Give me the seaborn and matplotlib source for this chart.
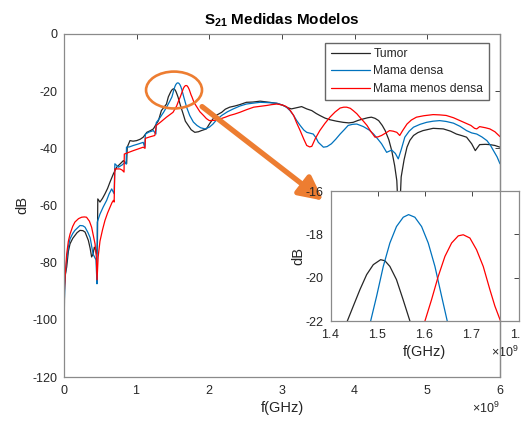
import numpy as np
import pandas as pd
import matplotlib
matplotlib.use("Agg")
import matplotlib.pyplot as plt
import seaborn as sns
from matplotlib.patches import Ellipse
from matplotlib.lines import Line2D
from matplotlib.ticker import ScalarFormatter

# ---------------- data (frequency in GHz, S21 in dB) ----------------
tumor_f = [0.0, 0.008, 0.02, 0.037, 0.06, 0.083, 0.12, 0.15, 0.18, 0.22, 0.26, 0.29, 0.335, 0.36, 0.38,
           0.40, 0.417, 0.435, 0.45, 0.46, 0.465, 0.495, 0.53, 0.564, 0.6, 0.633, 0.68, 0.725, 0.77, 0.817,
           0.862, 0.87, 0.908, 0.95, 1.0, 1.05, 1.09, 1.14, 1.19, 1.23, 1.27, 1.30, 1.34, 1.38, 1.41,
           1.4357, 1.4484, 1.4625, 1.4767, 1.4908, 1.5064, 1.5155, 1.526, 1.540, 1.554, 1.5685,
           1.60, 1.64, 1.67, 1.71, 1.75, 1.80,
           1.85, 1.89, 1.96, 2.0, 2.05, 2.10, 2.17, 2.22, 2.28, 2.35, 2.42, 2.51, 2.60, 2.70, 2.83, 2.93,
           3.02, 3.08, 3.13, 3.20, 3.27, 3.34, 3.41, 3.47, 3.52, 3.59, 3.66, 3.75, 3.84, 3.92, 3.98, 4.05,
           4.12, 4.18, 4.23, 4.28, 4.33, 4.38, 4.42, 4.47, 4.51, 4.55, 4.58, 4.61, 4.64, 4.68, 4.72, 4.76,
           4.81, 4.87, 4.94, 5.08, 5.22, 5.32, 5.40, 5.48, 5.54, 5.61, 5.66, 5.72, 5.80, 5.86, 5.93, 6.0]
tumor_db = [-110, -88, -84, -81.5, -76, -73.4, -71.5, -70.5, -69.5, -68.7, -68.8, -69.3, -72.2, -75, -78,
            -77, -74.6, -75.5, -77, -73, -57.7, -58.8, -57.5, -55.9, -54, -51.8, -48.9, -46.6, -45.5, -44.3,
            -45.4, -39.6, -37.3, -37.5, -37.3, -36.8, -36.1, -34.4, -33.8, -33.2, -31.5, -30.3, -26.8, -25.5, -24.5,
            -22.0, -21.31, -20.55, -19.86, -19.40, -19.17, -19.22, -19.48, -20.09, -21.01, -22.0,
            -24.8, -28, -30.5, -32, -33.5, -34.4,
            -34.2, -33.8, -33.2, -31.5, -29.7, -28.4, -27.4, -26.3, -25.6, -25.2, -24.7, -23.9, -23.8, -23.5, -23.9, -24.3,
            -25, -25.8, -26.2, -25.8, -25.4, -26.2, -26.8, -27.8, -28.5, -29.4, -30, -30.5, -30.9, -31.1, -30.9, -30.2,
            -29.7, -29.3, -29.1, -29.5, -30.3, -32, -33.8, -37, -40.8, -46, -51.3, -68, -50, -44, -39.6, -37.2,
            -35.5, -34.5, -33.8, -33, -33.2, -34, -35, -35.6, -36.1, -38.4, -40.8, -38.7, -38.6, -38.7, -39, -39.6]

densa_f = [0.0, 0.005, 0.015, 0.037, 0.06, 0.083, 0.12, 0.15, 0.22, 0.26, 0.29, 0.33, 0.36, 0.40, 0.44,
           0.454, 0.458, 0.495, 0.54, 0.587, 0.62, 0.656, 0.69, 0.70, 0.75, 0.80, 0.84, 0.855, 0.86, 0.90,
           0.954, 1.02, 1.09, 1.11, 1.12, 1.17, 1.23, 1.265, 1.27, 1.32, 1.37, 1.42, 1.46,
           1.4852, 1.4979, 1.512, 1.526, 1.540, 1.5544, 1.5657, 1.579, 1.5933, 1.6074, 1.6216, 1.6357, 1.6477,
           1.69, 1.73, 1.78, 1.83, 1.88,
           1.94, 2.0, 2.05, 2.10, 2.17, 2.25, 2.33, 2.42, 2.51, 2.60, 2.70, 2.80, 2.93, 3.00, 3.06, 3.11,
           3.16, 3.20, 3.25, 3.30, 3.34, 3.40, 3.43, 3.47, 3.50, 3.57, 3.62, 3.68, 3.74, 3.80, 3.86, 3.91,
           3.97, 4.03, 4.12, 4.20, 4.26, 4.32, 4.37, 4.44, 4.51, 4.56, 4.60, 4.64, 4.69, 4.75, 4.81, 4.90,
           4.99, 5.08, 5.17, 5.26, 5.36, 5.45, 5.54, 5.61, 5.68, 5.75, 5.82, 5.87, 5.91, 5.96, 6.0]
densa_db = [-100, -93, -85, -79, -74.5, -71.7, -69.8, -68.7, -67, -67.1, -67.6, -69.5, -71.3, -77, -79,
            -87.4, -65.8, -63, -60.5, -58.2, -56, -54.2, -55.9, -45.4, -46.6, -45.8, -44.9, -45.5, -39.6, -39.5,
            -39, -38.5, -37.9, -39.6, -35, -34.3, -33.8, -35, -31, -29.3, -27.4, -25.2, -23.3,
            -22.0, -20.85, -19.48, -18.4, -17.64, -17.21, -17.09, -17.21, -17.64, -18.4, -19.48, -20.85, -22.0,
            -25.8, -28.5, -30.8, -32, -32.8,
            -33.2, -32.6, -31.5, -30, -28.5, -27.2, -26.2, -25.2, -24.5, -24.2, -23.9, -24, -24.2, -24.8, -25.6, -26.8,
            -28.5, -30.2, -32, -33.6, -34.4, -34.8, -35, -36.4, -37.9, -39.6, -39.4, -38.4, -36.8, -35, -33.4, -32,
            -31.6, -31.5, -32.4, -33.6, -35, -36.8, -38.4, -41.4, -40.6, -41.8, -43.7, -40.5, -36.1, -34, -32.6, -31.6,
            -30.9, -30.5, -30.3, -30.6, -31.2, -32.3, -33.8, -34.6, -35, -36, -37.3, -39, -40.8, -43, -45.4]

menos_f = [0.0, 0.005, 0.015, 0.037, 0.06, 0.083, 0.12, 0.15, 0.20, 0.243, 0.28, 0.31, 0.35, 0.38, 0.40,
           0.427, 0.445, 0.455, 0.47, 0.495, 0.53, 0.564, 0.60, 0.633, 0.66, 0.68, 0.69, 0.70, 0.77, 0.80,
           0.826, 0.83, 0.88, 0.954, 1.02, 1.09, 1.115, 1.12, 1.18, 1.25, 1.27, 1.33, 1.41, 1.50, 1.55, 1.575,
           1.6004, 1.6145, 1.6286, 1.6428, 1.657, 1.6711, 1.6817, 1.6958, 1.7099, 1.7241, 1.7382, 1.7488, 1.7608,
           1.79, 1.83, 1.87, 1.92, 1.96,
           2.0, 2.07, 2.15, 2.22, 2.28, 2.35, 2.42, 2.51, 2.61, 2.70, 2.79, 2.86, 2.93, 3.00, 3.06, 3.11,
           3.16, 3.20, 3.25, 3.30, 3.34, 3.38, 3.41, 3.46, 3.52, 3.59, 3.66, 3.73, 3.80, 3.85, 3.89, 3.94,
           3.98, 4.03, 4.07, 4.12, 4.17, 4.22, 4.28, 4.32, 4.37, 4.43, 4.48, 4.53, 4.58, 4.62, 4.66, 4.72,
           4.78, 4.85, 4.95, 5.08, 5.17, 5.26, 5.36, 5.45, 5.53, 5.60, 5.65, 5.68, 5.72, 5.80, 5.86, 5.93, 6.0]
menos_db = [-93, -90, -85, -77, -72.5, -70, -67.3, -65.8, -64.6, -64.1, -64, -64.1, -65.5, -67.6, -70,
            -73.4, -78, -86, -78, -72.5, -68.5, -65.2, -62.6, -60.6, -59, -58.2, -58.8, -47.2, -47.2, -47.6,
            -48.3, -42, -41.5, -40.8, -40.2, -39.6, -40, -36.5, -36, -35.5, -32, -30.8, -29.1, -27.4, -25.2, -23.5,
            -22.0, -21.01, -19.94, -19.02, -18.4, -18.07, -18.02, -18.17, -18.71, -19.48, -20.55, -21.31, -22.0,
            -24, -25.6, -27.2, -28.5, -29.6,
            -30.3, -30.2, -29.7, -29.1, -28.5, -28, -27.4, -26.5, -25.6, -25.3, -25, -24.7, -24.5, -24.8, -25.4, -26.6,
            -28.5, -31, -33.8, -36.8, -39, -39.5, -39.3, -36.5, -33.8, -31.3, -29.1, -27.3, -25.9, -25.6, -25.6, -26,
            -26.8, -27.9, -29.1, -30.5, -32, -34, -36.1, -36, -35.5, -34.6, -33.8, -34, -34.4, -35.5, -33.8, -31.5,
            -30.1, -29.1, -28.6, -28.2, -28.3, -28.5, -29.3, -30.3, -31.2, -32, -33, -33.2, -32.4, -32.8, -33.2, -34.2, -35.9]

series_names = ["Tumor", "Mama densa", "Mama menos densa"]
series_colors = ["#262626", "#0072BD", "#FF0000"]
main_xticks = [0, 1, 2, 3, 4, 5, 6]
main_yticks = [-120, -100, -80, -60, -40, -20, 0]
inset_xticks = [1.4, 1.5, 1.6, 1.7, 1.8]
inset_yticks = [-22, -20, -18, -16]

# ---------------- style ----------------
sns.set_theme(style="white")
plt.rcParams["font.family"] = ["Liberation Sans", "DejaVu Sans"]
plt.rcParams["mathtext.fontset"] = "custom"
plt.rcParams["mathtext.rm"] = "Liberation Sans"
plt.rcParams["mathtext.it"] = "Liberation Sans:italic"
plt.rcParams["mathtext.bf"] = "Liberation Sans:bold"
plt.rcParams["axes.unicode_minus"] = False

TXT = "#262626"
SPINE = "#8a8a8a"
ORANGE = "#ED7D31"
FS = 9

fig = plt.figure(figsize=(5.21, 4.22), dpi=100)
fig.patch.set_facecolor("white")
ax = fig.add_axes([64 / 521, 45 / 422, 436 / 521, 343 / 422])
axi = fig.add_axes([330.5 / 521, 101 / 422, 188.5 / 521, 130 / 422])

frames = []
for name, f, d in [(series_names[0], tumor_f, tumor_db),
                   (series_names[1], densa_f, densa_db),
                   (series_names[2], menos_f, menos_db)]:
    frames.append(pd.DataFrame({"f": np.array(f) * 1e9, "dB": d, "serie": name}))
df = pd.concat(frames, ignore_index=True)
palette = dict(zip(series_names, series_colors))

for name in series_names:
    sub = df[df.serie == name]
    sns.lineplot(data=sub, x="f", y="dB", color=palette[name], lw=0.9, ax=ax,
                 label=name, sort=False, estimator=None)
    sns.lineplot(data=sub, x="f", y="dB", color=palette[name], lw=0.9, ax=axi,
                 legend=False, sort=False, estimator=None)


def style_axes(a, xt, yt, xlim, ylim):
    a.set_xlim(*xlim)
    a.set_ylim(*ylim)
    a.set_xticks([v * 1e9 for v in xt])
    a.set_yticks(yt)
    fmt = ScalarFormatter(useMathText=True)
    fmt.set_powerlimits((0, 0))
    a.xaxis.set_major_formatter(fmt)
    a.xaxis.get_offset_text().set_fontsize(FS)
    a.xaxis.get_offset_text().set_color(TXT)
    a.tick_params(direction="in", length=3.5, width=0.6, colors=TXT, labelsize=FS,
                  top=True, right=True, pad=5)
    for s in a.spines.values():
        s.set_color(SPINE)
        s.set_linewidth(0.9)
    a.set_xlabel("f(GHz)", fontsize=FS + 1.5, color=TXT, labelpad=3)
    a.set_ylabel("dB", fontsize=FS + 1.5, color=TXT, labelpad=2)
    a.set_facecolor("white")
    a.grid(False)


style_axes(ax, main_xticks, main_yticks, (0, 6e9), (-120, 0))
style_axes(axi, inset_xticks, inset_yticks, (1.4e9, 1.8e9), (-22, -16))
axi.set_ylabel("dB", fontsize=FS + 1.5, color=TXT, labelpad=0)

ax.set_title("$\\mathbf{S_{21}}$ Medidas Modelos", fontsize=11, fontweight="bold",
             color="black", pad=7)

leg = ax.legend(loc="upper right", bbox_to_anchor=(0.98, 0.982), fontsize=8.7,
                frameon=True, fancybox=False, handlelength=3.3, handletextpad=0.25,
                borderpad=0.45, labelspacing=0.45, borderaxespad=0.2)
leg.get_frame().set_edgecolor("#404040")
leg.get_frame().set_linewidth(1.0)
for h in leg.get_lines():
    h.set_linewidth(0.9)

# orange ellipse around the peaks and arrow to inset
ax.add_patch(Ellipse((1.514e9, -19.6), 0.77e9, 12.9, fill=False, edgecolor=ORANGE,
                     lw=1.9, zorder=5))
ax.annotate("", xy=(3.57e9, -58.3), xytext=(1.90e9, -25.4),
            arrowprops=dict(arrowstyle="-|>,head_length=0.9,head_width=0.45",
                            color=ORANGE, lw=3.8, mutation_scale=16, shrinkA=0, shrinkB=0),
            annotation_clip=False, zorder=6)

# main right spine is visible over the inset
axi.add_line(Line2D([1, 1], [0, 1], transform=ax.transAxes, color=SPINE, lw=0.9,
                    clip_on=False, zorder=10))

fig.savefig("out.png", dpi=100, facecolor="white")
